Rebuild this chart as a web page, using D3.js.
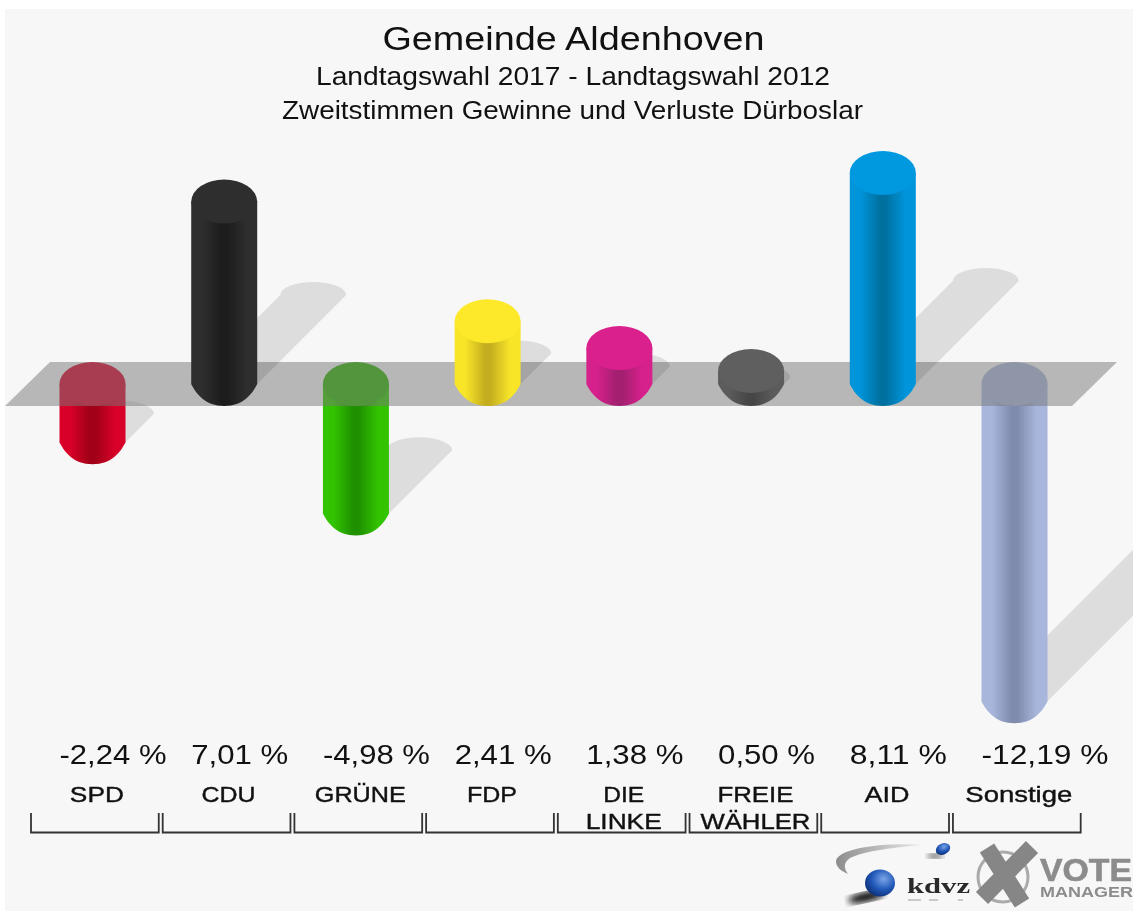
<!DOCTYPE html>
<html><head><meta charset="utf-8">
<script src="https://cdn.jsdelivr.net/npm/d3@7"></script>
<style>
html,body{margin:0;padding:0;background:#fff;overflow:hidden}
svg{display:block;font-family:"Liberation Sans",Arial,sans-serif;filter:blur(.6px)}
</style></head><body><div id="c"></div>
<script>
const categories=["SPD","CDU","GRÜNE","FDP","DIE LINKE","FREIE WÄHLER","AID","Sonstige"];
const categoryLines=[["SPD"],["CDU"],["GRÜNE"],["FDP"],["DIE","LINKE"],["FREIE","WÄHLER"],["AID"],["Sonstige"]];
const categoryWidths=[[54],[54],[91],[50],[41,76],[76,110],[45],[107]];
const values=[-2.24,7.01,-4.98,2.41,1.38,0.50,8.11,-12.19];
const valueLabels=["-2,24 %","7,01 %","-4,98 %","2,41 %","1,38 %","0,50 %","8,11 %","-12,19 %"];
const valueWidths=[107,97,107,97,97,97,97,127];
const capColors=["#d80028","#2e2e2e","#2db300","#fde92a","#d9208c","#5f5f5f","#0099e0","#a6b4d8"];
const edgeColors=["#d80028","#2e2e2e","#32c400","#f8e528","#d6208c","#5c5c5c","#0094da","#a8b6dc"];
const coreColors=["#a00018","#1c1c1c","#1f9000","#c4ae20","#a2206f","#464646","#00709f","#7f8bad"];
const titleLines=["Gemeinde Aldenhoven","Landtagswahl 2017 - Landtagswahl 2012","Zweitstimmen Gewinne und Verluste Dürboslar"];

const W=1133,H=911,rx=33,ry=22;
const svg=d3.select("#c").append("svg").attr("width",W).attr("height",H);
const defs=svg.append("defs");
svg.append("rect").attr("x",5).attr("y",9).attr("width",W).attr("height",H).attr("fill","#f7f7f7");

const x=d3.scalePoint().domain(categories).range([92.5,1014.5]);
const y=d3.scaleLinear().domain([0,8.11]).range([362,151]);
const shadowLen=d3.scaleLinear().domain([0,8.11]).range([0,103]);
const bandX=d3.scaleBand().domain(categories).range([31,1080.7]).paddingInner(.03);

categories.forEach((c,i)=>{
  const g=defs.append("linearGradient").attr("id","g"+i);
  [[0,edgeColors[i]],[.16,edgeColors[i]],[.46,coreColors[i]],[.54,coreColors[i]],[.84,edgeColors[i]],[1,edgeColors[i]]]
   .forEach(s=>g.append("stop").attr("offset",s[0]).attr("stop-color",s[1]));
});
const sph=defs.append("radialGradient").attr("id","sph").attr("cx",.62).attr("cy",.35).attr("r",.72);
sph.append("stop").attr("offset",0).attr("stop-color","#7aa4e6");
sph.append("stop").attr("offset",.55).attr("stop-color","#2158b8");
sph.append("stop").attr("offset",1).attr("stop-color","#0c2c70");
const sw=defs.append("linearGradient").attr("id","sw");
sw.append("stop").attr("offset",0).attr("stop-color","#8c8c8c");
sw.append("stop").attr("offset",1).attr("stop-color","#efefef");
defs.append("filter").attr("id","bl").append("feGaussianBlur").attr("stdDeviation",3);

const data=categories.map((c,i)=>({c,i,v:values[i],cx:x(c),
  top:y(Math.max(values[i],0)),
  bottom:values[i]<0? y(values[i])+2*ry : y(0)+2*ry}));

const body=d=>{const l=d.cx-rx,r=d.cx+rx,a=d.top+ry,b=d.bottom-ry,e=b+ry;
  return `M${l},${a}L${l},${b}C${l+5},${b+10} ${d.cx-19},${e} ${d.cx},${e}C${d.cx+19},${e} ${r-5},${b+10} ${r},${b}L${r},${a}Z`;};
const shadow=d=>{const n=shadowLen(Math.abs(d.v)),b=d.bottom-ry,l=d.cx-rx,r=d.cx+rx;
  return `M${l},${b}L${l+n},${b-n}A${rx},13 0 0 1 ${r+n},${b-n}L${r},${b}Z`;};

const drawBars=sel=>{
  const g=sel.append("g");
  g.append("path").attr("d",body).attr("fill",d=>`url(#g${d.i})`);
  g.append("ellipse").attr("cx",d=>d.cx).attr("cy",d=>d.top+ry).attr("rx",rx).attr("ry",ry).attr("fill",d=>capColors[d.i]);
};
const neg=data.filter(d=>d.v<0),pos=data.filter(d=>d.v>=0);
svg.selectAll(null).data(neg).enter().append("path").attr("d",shadow).attr("fill","rgba(0,0,0,.1)");
svg.selectAll(null).data(neg).enter().call(drawBars);
const y0=y(0);
svg.append("path").attr("d",`M5,${y0+44}L50,${y0}L1117,${y0}L1072,${y0+44}Z`).attr("fill","rgba(120,120,120,.5)");
svg.selectAll(null).data(pos).enter().append("path").attr("d",shadow).attr("fill","rgba(0,0,0,.1)");
svg.selectAll(null).data(pos).enter().call(drawBars);

const T=[[573.5,50,33.5,382],[573,85,25.5,514],[572.5,119,25.5,581]];
titleLines.forEach((t,i)=>svg.append("text").attr("x",T[i][0]).attr("y",T[i][1]).attr("text-anchor","middle")
  .attr("font-size",T[i][2]).attr("fill","#111").attr("textLength",T[i][3]).attr("lengthAdjust","spacingAndGlyphs").text(t));

svg.selectAll(null).data(data).enter().append("text").attr("x",d=>d.cx-33).attr("y",764)
  .attr("font-size",27).attr("fill","#111").attr("textLength",d=>valueWidths[d.i]).attr("lengthAdjust","spacingAndGlyphs").text(d=>valueLabels[d.i]);

data.forEach(d=>{
  const l=bandX(d.c),w=bandX.bandwidth(),mid=l+w/2+2;
  categoryLines[d.i].forEach((t,j)=>svg.append("text").attr("x",mid).attr("y",802+j*27).attr("text-anchor","middle")
    .attr("font-size",22).attr("stroke","#111").attr("stroke-width",.4).attr("fill","#111")
    .attr("textLength",categoryWidths[d.i][j]).attr("lengthAdjust","spacingAndGlyphs").text(t));
  svg.append("path").attr("d",`M${l},813V832.5H${l+w}V813`).attr("fill","none").attr("stroke","#333").attr("stroke-width",1.8);
});

const lg=svg.append("g");
lg.append("path").attr("d","M925,845C885,842 838,848 836,861C836,867 841,871 848,874C844,868 843,863 850,858C865,851 895,847 925,845Z").attr("fill","url(#sw)");
lg.append("ellipse").attr("cx",935).attr("cy",856).attr("rx",8).attr("ry",2.5).attr("fill","#222").attr("filter","url(#bl)").attr("opacity",.8);
lg.append("ellipse").attr("cx",943).attr("cy",849).attr("rx",7.5).attr("ry",5.5).attr("transform","rotate(-25 943 849)").attr("fill","url(#sph)");
lg.append("ellipse").attr("cx",866).attr("cy",897).attr("rx",18).attr("ry",5).attr("transform","rotate(-12 866 897)").attr("fill","#111").attr("filter","url(#bl)");
lg.append("ellipse").attr("cx",880).attr("cy",883).attr("rx",15).attr("ry",13.5).attr("fill","url(#sph)");
lg.append("text").attr("x",907).attr("y",893).attr("font-family","Liberation Serif").attr("font-weight","bold").attr("font-size",22).attr("fill","#2a2a2a").attr("textLength",63).attr("lengthAdjust","spacingAndGlyphs").text("kdvz");
lg.append("path").attr("d","M908,900H921M929,900H938M958,900H963").attr("stroke","#bbb").attr("stroke-width",1.5);
lg.append("circle").attr("cx",1003).attr("cy",877).attr("r",25).attr("fill","none").attr("stroke","#aaa").attr("stroke-width",3);
lg.append("path").attr("d","M987,848L1022,903M1032,847L982,898").attr("fill","none").attr("stroke","#868686").attr("stroke-width",17);
lg.append("text").attr("x",1040).attr("y",881).attr("font-weight","bold").attr("font-size",31).attr("fill","#8c8c8c").attr("stroke","#8c8c8c").attr("stroke-width",.6).attr("textLength",92).attr("lengthAdjust","spacingAndGlyphs").text("VOTE");
lg.append("text").attr("x",1040).attr("y",897).attr("font-weight","bold").attr("font-size",14.5).attr("fill","#8c8c8c").attr("textLength",93).attr("lengthAdjust","spacingAndGlyphs").text("MANAGER");
</script></body></html>
